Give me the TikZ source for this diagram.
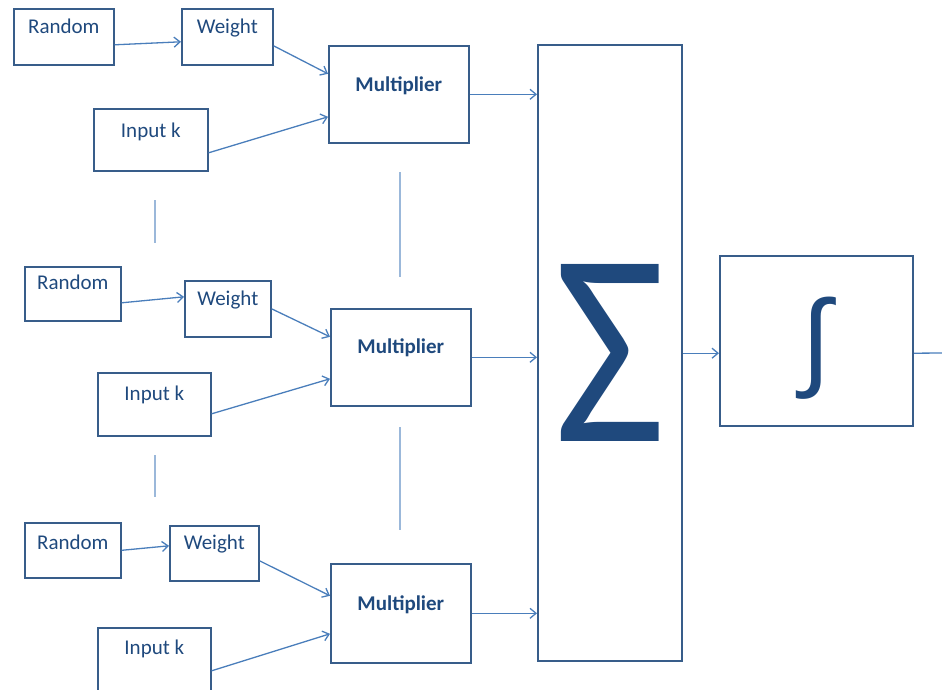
\documentclass[tikz,border=0pt]{standalone}
\usepackage{fontspec}
\setmainfont{Carlito}
\newfontfamily\symfont{Carlito}
\newfontfamily\intfont{Liberation Sans}
\usetikzlibrary{arrows.meta}
\definecolor{WDText}{HTML}{1F497D}
\definecolor{WDLine}{HTML}{385D8A}
\definecolor{WDArrow}{HTML}{4A7EBB}

\begin{document}
\begin{tikzpicture}[x=1pt,y=-1pt,>={Straight Barb[length=6pt,width=10pt]},
  font=\fontsize{21}{25}\selectfont,text=WDText,
  box/.style={draw=WDLine,line width=1.6pt,anchor=north west,inner sep=0pt},
  link/.style={->,draw=WDArrow,line width=1.3pt},
  gap/.style={draw=WDArrow!55,line width=1.2pt}]
\useasboundingbox (0,0) rectangle (942,689);

% first row
\node[box,minimum width=100pt,text height=25pt,text depth=31pt] (rnd1) at (13,8) {Random};
\node[box,minimum width=91pt,text height=25pt,text depth=31pt] (wgt1) at (181,8) {Weight};
\node[box,minimum width=114pt,text height=29pt,text depth=33pt] (inp1) at (93,108) {Input k};
\node[box,minimum width=140pt,text height=46pt,text depth=51pt,font=\fontsize{21}{25}\selectfont\bfseries] (mul1) at (328,45) {Multiplier};

% second row
\node[box,minimum width=96pt,text height=23pt,text depth=31pt] (rnd2) at (24,266) {Random};
\node[box,minimum width=86pt,text height=25pt,text depth=31pt] (wgt2) at (184,280) {Weight};
\node[box,minimum width=113pt,text height=28pt,text depth=35pt] (inp2) at (97,372) {Input k};
\node[box,minimum width=140pt,text height=45pt,text depth=52pt,font=\fontsize{21}{25}\selectfont\bfseries] (mul2) at (330,308) {Multiplier};

% third row
\node[box,minimum width=96pt,text height=27pt,text depth=28pt] (rnd3) at (24,522) {Random};
\node[box,minimum width=89pt,text height=24pt,text depth=31pt] (wgt3) at (169,525) {Weight};
\node[box,minimum width=113pt,text height=27pt,text depth=43pt] (inp3) at (97,627) {Input k};
\node[box,minimum width=140pt,text height=47pt,text depth=52pt,font=\fontsize{21}{25}\selectfont\bfseries] (mul3) at (330,563) {Multiplier};

% sum and integral
\node[box,line width=2.4pt,minimum width=144pt,minimum height=616pt,font=\symfont\fontsize{276}{276}\selectfont] (sig) at (537,44) {\scalebox{0.88}[1]{Σ}};
\node[box,line width=2pt,minimum width=193pt,minimum height=170pt,font=\intfont\fontsize{108}{108}\selectfont] (int) at (719,255) {\raisebox{0pt}[\dimexpr\height+14pt\relax]{∫}};
\coordinate (out) at (942,353);

\draw[link] ([yshift=-8pt]rnd1.east) -- ([yshift=-5pt]wgt1.west);
\draw[link] ([yshift=-9pt]wgt1.east) -- ([yshift=20.5pt]mul1.west);
\draw[link] ([yshift=-13pt]inp1.east) -- ([yshift=-22.5pt]mul1.west);
\draw[link] (mul1.east) -- (mul1.east -| sig.west);

\draw[link] ([yshift=-9pt]rnd2.east) -- ([yshift=12pt]wgt2.west);
\draw[link] (wgt2.east) -- ([yshift=20.5pt]mul2.west);
\draw[link] ([yshift=-9.5pt]inp2.east) -- ([yshift=-21.5pt]mul2.west);
\draw[link] (mul2.east) -- (mul2.east -| sig.west);

\draw[link] (rnd3.east) -- ([yshift=7.5pt]wgt3.west);
\draw[link] ([yshift=-7.5pt]wgt3.east) -- ([yshift=17.5pt]mul3.west);
\draw[link] ([yshift=-8pt]inp3.east) -- ([yshift=-20.5pt]mul3.west);
\draw[link] (mul3.east) -- (mul3.east -| sig.west);

\draw[link] (sig.east) -- (sig.east -| int.west);
\draw[draw=WDArrow,line width=1.3pt] (sig.east -| int.east) -- (out);

% row gaps
\draw[gap] (155,200) -- (155,243);
\draw[gap] (400,172) -- (400,277);
\draw[gap] (155,455) -- (155,497);
\draw[gap] (400,427) -- (400,530);
\end{tikzpicture}
\end{document}
